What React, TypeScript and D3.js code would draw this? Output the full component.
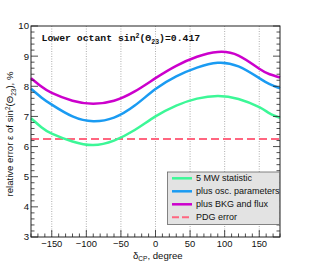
import React from "react";
import * as d3 from "d3";

const deltaCP = [-180, -165, -150, -120, -90, -60, -30, 0, 30, 60, 90, 120, 150, 165, 180];
const statErr = [6.94, 6.64, 6.43, 6.17, 6.05, 6.2, 6.55, 7.0, 7.36, 7.59, 7.68, 7.58, 7.31, 7.1, 6.95];
const oscErr = [7.92, 7.63, 7.39, 7.0, 6.84, 6.96, 7.36, 7.91, 8.33, 8.62, 8.78, 8.66, 8.27, 8.07, 7.93];
const bkgErr = [8.27, 7.99, 7.78, 7.52, 7.42, 7.52, 7.83, 8.27, 8.68, 8.98, 9.14, 9.02, 8.58, 8.4, 8.29];
const pdgErr = 6.25;

const xMajor = [-150, -100, -50, 0, 50, 100, 150];
const yMajor = [3, 4, 5, 6, 7, 8, 9, 10];

const seriesNames = ["5 MW statistic", "plus osc. parameters", "plus BKG and flux", "PDG error"];
const seriesColors = ["#3cf797", "#1a9bf2", "#cc00cc", "#ff6680"];

const W = 311, H = 264;
const L = 31, R = 280, T = 26, B = 237;
const SANS = "'Liberation Sans', Arial, Helvetica, sans-serif";

export default function App() {
  const x = d3.scaleLinear().domain([-180, 180]).range([L, R]);
  const y = d3.scaleLinear().domain([3, 10]).range([B, T]);
  const line = d3
    .line<number>()
    .x((_, i) => x(deltaCP[i]))
    .y((d) => y(d))
    .curve(d3.curveNatural);

  const xMinor = d3.range(-180, 181, 10);
  const yMinor = d3.range(3, 10.001, 0.2);

  const series = [statErr, oscErr, bkgErr];

  return (
    <svg width={W} height={H} style={{ position: "absolute", left: 0, top: 0, background: "#fff" }}>
      {/* grid */}
      {xMajor.map((v) => (
        <line key={"g" + v} x1={x(v)} x2={x(v)} y1={T} y2={B} stroke="#999" strokeWidth={0.8} strokeDasharray="1,1.5" />
      ))}
      {/* curves */}
      <line x1={L} x2={R} y1={y(pdgErr)} y2={y(pdgErr)} stroke={seriesColors[3]} strokeWidth={2} strokeDasharray="8,4" />
      {series.map((s, i) => (
        <path key={"s" + i} d={line(s) || ""} fill="none" stroke={seriesColors[i]} strokeWidth={2.5} />
      ))}
      {/* frame */}
      <rect x={L} y={T} width={R - L} height={B - T} fill="none" stroke="#222" strokeWidth={1} />
      {/* x ticks */}
      {xMinor.map((v) => {
        const major = v % 50 === 0;
        return <line key={"xt" + v} x1={x(v)} x2={x(v)} y1={B} y2={B - (major ? 7 : 3.5)} stroke="#222" strokeWidth={0.8} />;
      })}
      {xMajor.map((v) => (
        <text key={"xl" + v} x={x(v)} y={246.5} textAnchor="middle" fontFamily={SANS} fontSize={9.4} fill="#111">
          {v < 0 ? "\u2212" + Math.abs(v) : String(v)}
        </text>
      ))}
      {/* y ticks */}
      {yMinor.map((v, i) => {
        const major = i % 5 === 0;
        const len = major ? 7 : 3.5;
        return (
          <g key={"yt" + i}>
            <line x1={L} x2={L + len} y1={y(v)} y2={y(v)} stroke="#222" strokeWidth={0.8} />
            <line x1={R} x2={R - len} y1={y(v)} y2={y(v)} stroke="#222" strokeWidth={0.8} />
          </g>
        );
      })}
      {yMajor.map((v) => (
        <text key={"yl" + v} x={29} y={y(v)} dy="0.35em" textAnchor="end" fontFamily={SANS} fontSize={9.6} fill="#111">
          {v}
        </text>
      ))}
      {/* axis titles */}
      <text x={133} y={258.5} fontFamily={SANS} fontSize={9.6} fill="#111">
        δ<tspan fontSize={6.5} dy={2.5}>CP</tspan>
        <tspan dy={-2.5}>, degree</tspan>
      </text>
      <text transform={`translate(13,134) rotate(-90)`} textAnchor="middle" fontFamily={SANS} fontSize={9.6} fill="#111">
        relative error ε of sin<tspan fontSize={6.5} dy={-3.5}>2</tspan>
        <tspan dy={3.5}>(Θ</tspan>
        <tspan fontSize={6.5} dy={2.5}>23</tspan>
        <tspan dy={-2.5}>), %</tspan>
      </text>
      {/* title */}
      <text x={41.5} y={41} fontFamily="'Liberation Mono', 'DejaVu Sans Mono', monospace" fontWeight="bold" fontSize={9.8} fill="#111">
        Lower octant sin<tspan fontSize={6.5} dy={-3.5}>2</tspan>
        <tspan dy={3.5}>(Θ</tspan>
        <tspan fontSize={6.5} dy={2.5}>23</tspan>
        <tspan dy={-2.5}>)=0.417</tspan>
      </text>
      {/* legend */}
      <rect x={167.5} y={172} width={112} height={52.5} fill="#e3e3e3" stroke="#666" strokeWidth={0.8} />
      {seriesNames.map((name, i) => {
        const cy = 178.3 + i * 13;
        return (
          <g key={"lg" + i}>
            <line
              x1={172}
              x2={192}
              y1={cy}
              y2={cy}
              stroke={seriesColors[i]}
              strokeWidth={i === 3 ? 2 : 2.5}
              strokeDasharray={i === 3 ? "7,3" : undefined}
            />
            <text x={196} y={cy} dy="0.35em" fontFamily={SANS} fontSize={9} fill="#111">
              {name}
            </text>
          </g>
        );
      })}
    </svg>
  );
}
